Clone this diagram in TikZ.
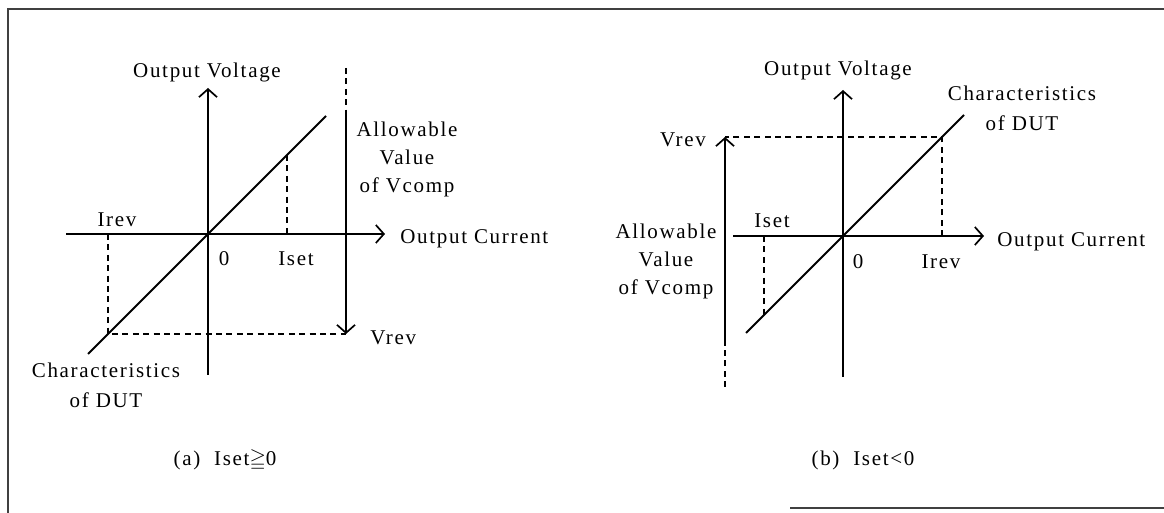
\documentclass[tikz,border=0pt]{standalone}
\usepackage{amssymb}
\usepackage{fontspec}
\setmainfont[LetterSpace=8]{Liberation Serif}
\usepackage{tikz}
\usetikzlibrary{arrows.meta}

\begin{document}
\begin{tikzpicture}[
  x=0.5pt, y=-0.5pt,
  lbl/.style={inner sep=0pt, align=center, font=\fontsize{10.5}{14}\selectfont},
  axis/.style={line width=0.85pt, -{Straight Barb[length=4pt,width=9pt]}},
  curve/.style={line width=0.95pt},
  guide/.style={line width=0.75pt, dash pattern=on 3pt off 2.2pt},
  frame/.style={line width=0.8pt, black!75}]
  \useasboundingbox (0,0) rectangle (1164,513);
  \draw[frame] (1164,9) -- (8,9) -- (8,513);
  \draw[frame] (790,508) -- (1164,508);

  % (a) Iset >= 0
  \coordinate (a0) at (208,234);
  \coordinate (aybot) at (208,375);
  \coordinate (aytop) at (208,88);
  \coordinate (axl) at (66,234);
  \coordinate (axr) at (385,234);
  \coordinate (alo) at (88,354);
  \coordinate (ahi) at (326,116);
  \coordinate (aset) at (287,234);
  \coordinate (asetc) at (287,155);
  \coordinate (arev) at (108,234);
  \coordinate (arevc) at (108,334);
  \coordinate (acmp) at (346,68);
  \coordinate (acmpm) at (346,113);
  \coordinate (avrev) at (346,334);
  \draw[axis] (aybot) -- (aytop);
  \draw[axis] (axl) -- (axr);
  \draw[curve] (alo) -- (ahi);
  \draw[guide] (asetc) -- (aset);
  \draw[guide] (arev) -- (arevc) -- (avrev);
  \draw[guide] (acmp) -- (acmpm);
  \draw[axis] (acmpm) -- (avrev);
  \node[lbl] (avolt) at (207,72) {Output Voltage};
  \node[lbl] (airev) at (117,220) {Irev};
  \node[lbl] (azero) at (224,259) {0};
  \node[lbl] (aiset) at (296,259) {Iset};
  \node[lbl, anchor=west] (acurr) at (400,239) {Output Current};
  \node[lbl] (acomp) at (407,159) {Allowable\\Value\\of Vcomp};
  \node[lbl, anchor=west] (avlab) at (370,338) {Vrev};
  \node[lbl, font=\fontsize{10.5}{15}\selectfont] (adut) at (106,385) {Characteristics\\of DUT};
  \node[lbl] (acap) at (225,460) {(a)\ \ Iset$\geqq$0};

  % (b) Iset < 0
  \coordinate (b0) at (843,236);
  \coordinate (bybot) at (843,377);
  \coordinate (bytop) at (843,90);
  \coordinate (bxl) at (733,236);
  \coordinate (bxr) at (984,236);
  \coordinate (blo) at (746,333);
  \coordinate (bhi) at (964,115);
  \coordinate (bset) at (764,236);
  \coordinate (bsetc) at (764,315);
  \coordinate (brev) at (942,236);
  \coordinate (brevc) at (942,137);
  \coordinate (bcmp) at (725,387);
  \coordinate (bcmpm) at (725,345);
  \coordinate (bvrev) at (725,137);
  \draw[axis] (bybot) -- (bytop);
  \draw[axis] (bxl) -- (bxr);
  \draw[curve] (blo) -- (bhi);
  \draw[guide] (bset) -- (bsetc);
  \draw[guide] (brev) -- (brevc) -- (bvrev);
  \draw[guide] (bcmp) -- (bcmpm);
  \draw[axis] (bcmpm) -- (bvrev);
  \node[lbl] (bvolt) at (838,70) {Output Voltage};
  \node[lbl, font=\fontsize{10.5}{15}\selectfont] (bdut) at (1022,108) {Characteristics\\of DUT};
  \node[lbl] (bvlab) at (683,140) {Vrev};
  \node[lbl] (bcomp) at (666,261) {Allowable\\Value\\of Vcomp};
  \node[lbl] (biset) at (772,221) {Iset};
  \node[lbl] (bzero) at (858,262) {0};
  \node[lbl] (birev) at (941,262) {Irev};
  \node[lbl, anchor=west] (bcurr) at (997,242) {Output Current};
  \node[lbl] (bcap) at (863,460) {(b)\ \ Iset<0};
\end{tikzpicture}
\end{document}
